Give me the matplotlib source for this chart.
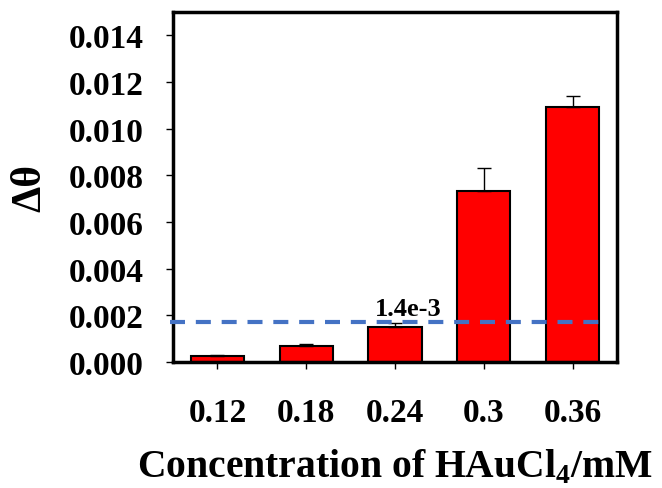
import matplotlib.pyplot as plt
import numpy as np

plt.rcParams['font.family'] = ['Liberation Serif', 'DejaVu Serif']
plt.rcParams['font.weight'] = 'bold'
plt.rcParams['axes.labelweight'] = 'bold'
plt.rcParams['mathtext.fontset'] = 'custom'
plt.rcParams['mathtext.rm'] = 'Liberation Serif:bold'
plt.rcParams['mathtext.bf'] = 'Liberation Serif:bold'

concentrations = ["0.12", "0.18", "0.24", "0.3", "0.36"]
delta_theta = [0.00025, 0.00069, 0.00149, 0.00731, 0.01091]
errors_up = [0.00004, 0.0001, 0.0002, 0.0010, 0.0005]
threshold = 0.00172
threshold_label = "1.4e-3"

fig = plt.figure(figsize=(6.62, 4.89), dpi=100)
ax = fig.add_axes([173 / 662, 1 - 363 / 489, 444 / 662, 350 / 489])

x = np.arange(len(concentrations))
ax.bar(x, delta_theta, width=0.6, color='#ff0000', edgecolor='black', linewidth=1.5, zorder=2)
ax.errorbar(x, delta_theta, yerr=[np.zeros(len(x)), errors_up], fmt='none',
            ecolor='black', elinewidth=1, capsize=5, capthick=1, zorder=3)

ax.axhline(threshold, xmin=-0.006, xmax=0.975, color='#4472c4', linestyle=(0, (3.6, 2.6)),
           linewidth=3, zorder=4, clip_on=False)
ax.text(2.15, threshold + 0.0001, threshold_label, ha='center', va='bottom',
        fontsize=19, fontweight='bold')

ax.set_xlim(-0.5, 4.5)
ax.set_ylim(0, 0.015)
ax.set_yticks(np.arange(0, 0.0141, 0.002))
ax.set_yticklabels(["{:.3f}".format(v) for v in np.arange(0, 0.0141, 0.002)])
ax.set_xticks(x)
ax.set_xticklabels(concentrations)

for spine in ax.spines.values():
    spine.set_linewidth(2.5)

ax.tick_params(axis='y', direction='out', length=5, width=1, pad=16, labelsize=24)
ax.tick_params(axis='x', direction='out', length=5, width=1, pad=20, labelsize=24)

ax.set_ylabel("Δθ", fontsize=30, labelpad=14)
ax.set_xlabel(r"Concentration of HAuCl$_{\mathbf{4}}$/mM", fontsize=28.5, labelpad=14)

fig.savefig("out.png", dpi=100)
